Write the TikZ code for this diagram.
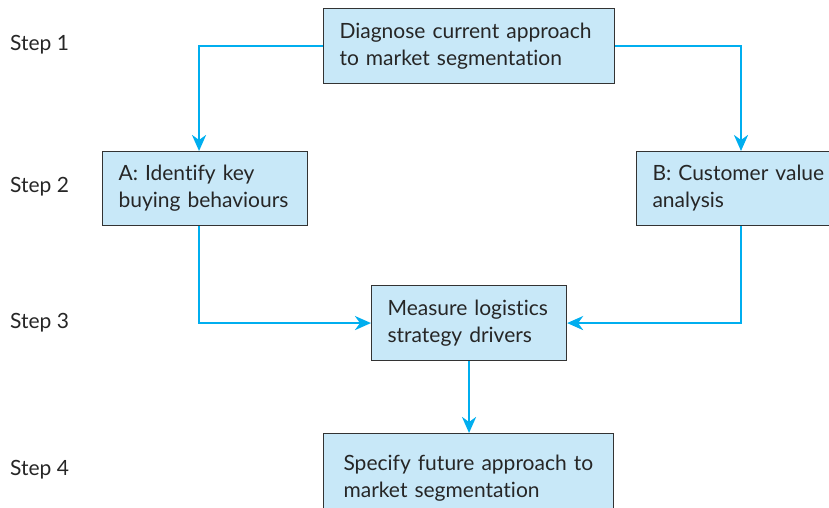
\documentclass[tikz,border=0pt]{standalone}
\usepackage{fontspec}
\setmainfont{Lato}[Ligatures=NoCommon]
\usetikzlibrary{arrows.meta}
\definecolor{boxfill}{HTML}{C8E8F8}
\definecolor{boxline}{HTML}{333333}
\definecolor{flow}{HTML}{00AEEF}
\tikzset{
  stage/.style={draw=boxline, line width=1.1pt, fill=boxfill, anchor=north west,
    align=left, inner xsep=16pt, inner ysep=0pt, text=black!85,
    font=\fontsize{21}{27}\selectfont},
  steplabel/.style={anchor=west, inner sep=0pt, text=black!85,
    font=\fontsize{21}{27}\selectfont},
  flowarrow/.style={draw=flow, line width=2.6pt,
    -{Stealth[length=16pt, width=14pt, inset=5pt]}},
}
\begin{document}
\begin{tikzpicture}[x=1pt, y=-1pt]
\useasboundingbox (0,0) rectangle (829,507);

% process boxes
\node[stage, text width=259pt, minimum height=75pt] (diag) at (323,8)
  {Diagnose current approach\\to market segmentation};
\node[stage, text width=173pt, minimum height=74pt] (ident) at (102,151)
  {A: Identify key\\buying behaviours};
\node[stage, text width=180pt, minimum height=74pt] (value) at (636,151)
  {B: Customer value\\analysis};
\node[stage, text width=163pt, minimum height=75pt] (measure) at (371,285)
  {Measure logistics\\strategy drivers};
\node[stage, text width=250pt, minimum height=90pt, inner xsep=20pt] (future) at (323,433)
  {Specify future approach to\\market segmentation};

% step labels
\node[steplabel] (s1) at (10,45) {Step 1};
\node[steplabel] (s2) at (10,187) {Step 2};
\node[steplabel] (s3) at (10,323) {Step 3};
\node[steplabel] (s4) at (10,470) {Step 4};

% connectors
\draw[flowarrow] (diag.west) -| ([xshift=-6pt]ident.north);
\draw[flowarrow] (diag.east) -| ([xshift=105pt]value.north west);
\draw[flowarrow] ([xshift=-6pt]ident.south) |- (measure.west);
\draw[flowarrow] ([xshift=105pt]value.south west) |- (measure.east);
\draw[flowarrow] (measure.south) -- (measure.south |- future.north);
\end{tikzpicture}
\end{document}
